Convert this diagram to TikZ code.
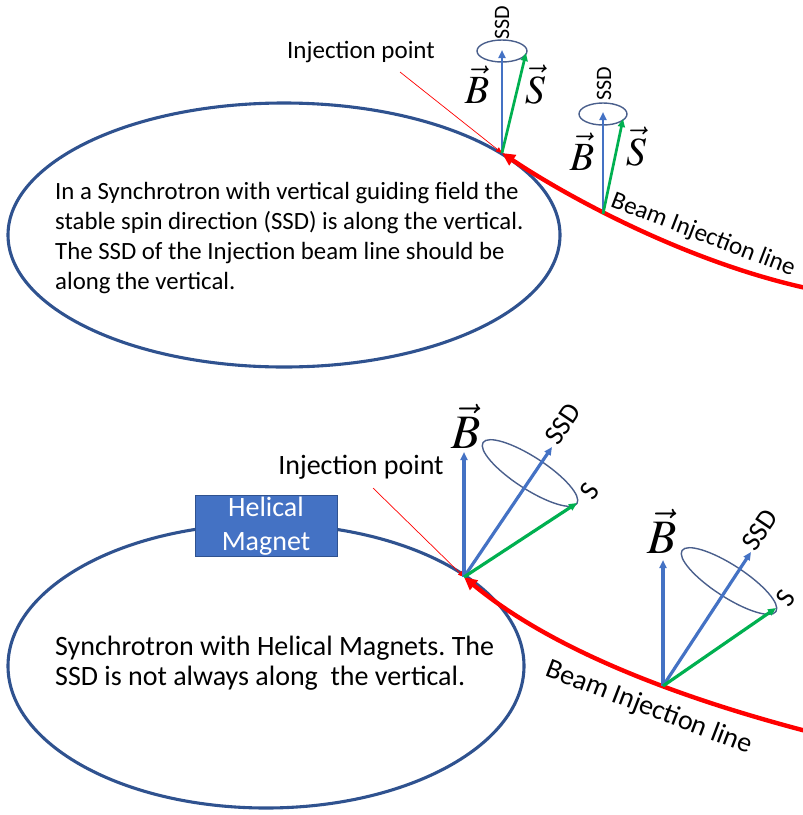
\documentclass[tikz,border=0pt]{standalone}
\usepackage{amsmath}
\usepackage{mathptmx}
\usepackage[no-math]{fontspec}
\setmainfont{Carlito}
\usepackage{xcolor}
\usetikzlibrary{arrows.meta,shapes.geometric,positioning}
\frenchspacing

\definecolor{ringblue}{HTML}{2F528F}
\definecolor{vecblue}{HTML}{4472C4}
\definecolor{spingreen}{HTML}{00B050}
\definecolor{beamred}{HTML}{FF0000}
\definecolor{conegray}{HTML}{4A5F8C}

\tikzset{
  ring/.style={draw=ringblue, line width=3.1pt},
  beam/.style={draw=beamred, line width=4.4pt, {Triangle[length=13pt,width=12pt]}-},
  pointer/.style={draw=beamred, line width=0.7pt, -{Triangle[length=6pt,width=5pt]}},
  cone/.style={draw=conegray, line width=1.4pt},
  bvec/.style={draw=vecblue, line width=2.7pt, -{Triangle[length=8pt,width=7pt]}},
  svec/.style={draw=spingreen, line width=2.7pt, -{Triangle[length=8pt,width=7pt]}},
  bodytext/.style={anchor=west, align=left, inner sep=0pt},
  smalltext/.style={font=\fontsize{25}{30}\selectfont, inner sep=0pt},
  bigtext/.style={font=\fontsize{28}{30}\selectfont, inner sep=0pt},
  vecletter/.style={inner sep=0pt, anchor=base},
}

\begin{document}
\begin{tikzpicture}[x=1pt,y=-1pt]
    \useasboundingbox (0,0) rectangle (803,815);

    % upper half: vertical guiding field
    \draw[ring] (284,235) ellipse [x radius=276pt, y radius=132pt];
    \node[bodytext, font=\fontsize{24.8}{30}\selectfont] (text1) at (55,238)
        {In a Synchrotron with vertical guiding field the\\
         stable spin direction (SSD) is along the vertical.\\
         The SSD of the Injection beam line should be\\
         along the vertical.};

    \coordinate (inj1) at (502,153);
    \coordinate (base1) at (603,214);
    \node[smalltext] (injlabel1) at (361,52) {Injection point};
    \coordinate (ptr1) at (400,72);
    \draw[pointer] (ptr1) -- (inj1);
    \draw[beam] (inj1) .. controls (560,192) and (680,260) .. (806,288);
    \node[smalltext, rotate=-21] (beamlabel1) at (703,235) {Beam Injection line};

    \coordinate (btip1) at (502,50);
    \coordinate (stip1) at (526,53);
    \draw[cone] (502,51) ellipse [x radius=25pt, y radius=11pt];
    \draw[bvec] (inj1) -- (btip1);
    \draw[svec] (inj1) -- (stip1);
    \node[vecletter, font=\fontsize{40}{40}\selectfont] (blabel1) at (477,103) {$\vec{B}$};
    \node[vecletter, font=\fontsize{40}{40}\selectfont] (slabel1) at (535,103) {$\vec{S}$};
    \node[inner sep=0pt, font=\fontsize{22}{22}\selectfont, rotate=90] (ssd1) at (502,23) {SSD};

    \coordinate (btip2) at (603,112);
    \coordinate (stip2) at (623,119);
    \draw[cone] (603,114) ellipse [x radius=24pt, y radius=11pt];
    \draw[bvec] (base1) -- (btip2);
    \draw[svec] (base1) -- (stip2);
    \node[vecletter, font=\fontsize{40}{40}\selectfont] (blabel2) at (582,170) {$\vec{B}$};
    \node[vecletter, font=\fontsize{40}{40}\selectfont] (slabel2) at (636,165) {$\vec{S}$};
    \node[inner sep=0pt, font=\fontsize{22}{22}\selectfont, rotate=90] (ssd2) at (604,84) {SSD};

    % lower half: helical magnets
    \draw[ring] (266,666) ellipse [x radius=258pt, y radius=142pt];
    \node[fill=vecblue, draw=ringblue, line width=1pt, text=white, align=center,
          minimum width=142pt, minimum height=61pt, inner sep=0pt,
          font=\fontsize{28}{34}\selectfont] (magnet) at (266,526) {Helical\\Magnet};
    \node[bodytext, font=\fontsize{28}{30}\selectfont] (text2) at (55,663)
        {Synchrotron with Helical Magnets. The\\
         SSD is not always along\ \ the vertical.};

    \coordinate (inj2) at (464,577);
    \coordinate (base2) at (663,686);
    \node[bigtext] (injlabel2) at (361,467) {Injection point};
    \coordinate (ptr2) at (373,488);
    \draw[pointer] (ptr2) -- (inj2);
    \draw[beam] (inj2) .. controls (540,640) and (650,690) .. (806,731);
    \node[bigtext, rotate=-21] (beamlabel2) at (649,708) {Beam Injection line};

    \coordinate (btip3) at (464,452);
    \coordinate (dtip3) at (552,447);
    \coordinate (stip3) at (577,503);
    \coordinate (cone3) at (530,473);
    \draw[cone, rotate around={-33:(cone3)}] (cone3) ellipse [x radius=56pt, y radius=16pt];
    \draw[bvec, line width=3.2pt] (inj2) -- (btip3);
    \draw[bvec, line width=3.2pt] (inj2) -- (dtip3);
    \draw[svec, line width=3.2pt] (inj2) -- (stip3);
    \node[vecletter, font=\fontsize{48}{48}\selectfont] (blabel3) at (466,448) {$\vec{B}$};
    \node[bigtext, rotate=56] (ssd3) at (563,424) {SSD};
    \node[bigtext, rotate=56] (slabel3) at (590,491) {S};

    \coordinate (btip4) at (663,560);
    \coordinate (dtip4) at (751,552);
    \coordinate (stip4) at (776,608);
    \coordinate (cone4) at (729,581);
    \draw[cone, rotate around={-33:(cone4)}] (cone4) ellipse [x radius=56pt, y radius=16pt];
    \draw[bvec, line width=3.2pt] (base2) -- (btip4);
    \draw[bvec, line width=3.2pt] (base2) -- (dtip4);
    \draw[svec, line width=3.2pt] (base2) -- (stip4);
    \node[vecletter, font=\fontsize{48}{48}\selectfont] (blabel4) at (662,553) {$\vec{B}$};
    \node[bigtext, rotate=56] (ssd4) at (760,530) {SSD};
    \node[bigtext, rotate=56] (slabel4) at (786,598) {S};
\end{tikzpicture}
\end{document}
